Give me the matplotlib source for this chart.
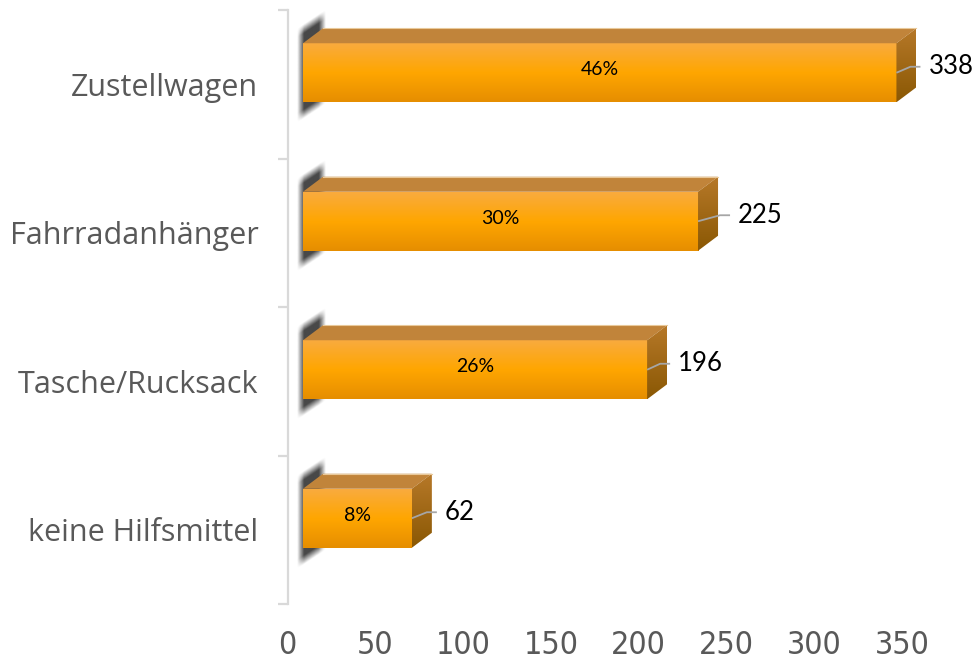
import numpy as np
import matplotlib
matplotlib.use("Agg")
import matplotlib.pyplot as plt
from matplotlib.patches import Polygon
from matplotlib import font_manager as fm

# --- data -------------------------------------------------------------
categories = ["Zustellwagen", "Fahrradanhänger", "Tasche/Rucksack", "keine Hilfsmittel"]
counts = [338, 225, 196, 62]
shares = [46, 30, 26, 8]
x_ticks = [0, 50, 100, 150, 200, 250, 300, 350]

# --- layout / style ---------------------------------------------------
W, H = 974, 659
AX_L, AX_R, AX_T, AX_B = 287.5, 902.0, 10.0, 604.0     # axes box in pixels
label_gap_px = [12, 20, 11, 13]                        # gap between bar and value label


def narrow_font():
    """Pick a narrow face for the value axis if one is installed."""
    for fam, stretch in (("Liberation Sans Narrow", "normal"),
                         ("DejaVu Sans", "condensed")):
        try:
            fp = fm.FontProperties(family=fam, stretch=stretch)
            path = fm.findfont(fp, fallback_to_default=False)
            if "narrow" in path.lower() or "condensed" in path.lower():
                return fm.FontProperties(fname=path, size=23)
        except Exception:
            pass
    return fm.FontProperties(family="Liberation Sans", size=22)


fig = plt.figure(figsize=(W / 100, H / 100), dpi=100)
fig.patch.set_facecolor("white")
ax = fig.add_axes([AX_L / W, (H - AX_B) / H, (AX_R - AX_L) / W, (AX_B - AX_T) / H])
ax.set_xlim(x_ticks[0], x_ticks[-1])
n = len(categories)
ax.set_ylim(n - 0.5, -0.5)

ux = (AX_R - AX_L) / (x_ticks[-1] - x_ticks[0])   # pixels per value unit
uy = (AX_B - AX_T) / n                             # pixels per category band


def px_x(p):
    return p / ux


def px_y(p):
    return p / uy


X0 = px_x(15.5)          # floor offset of the front face
DX = px_x(20)            # depth to the right
DY = -px_y(15)           # depth upwards (axis is inverted)
HALF = px_y(29.5)        # half height of a bar front
SHIFT = -px_y(11.5)      # bar front centre relative to the band centre

front_top = np.array([249, 171, 62]) / 255
front_mid = np.array([255, 166, 0]) / 255
front_bot = np.array([230, 142, 0]) / 255
side_top = np.array([182, 120, 40]) / 255
side_bot = np.array([138, 88, 4]) / 255
top_col = "#C1843A"


def vgrad(c_top, c_mid, c_bot, rows=64):
    t = np.linspace(0, 1, rows)[:, None]
    a = np.where(t < 0.5, t / 0.5, 0)
    b = np.where(t >= 0.5, (t - 0.5) / 0.5, 0)
    col = np.where(t < 0.5,
                   c_top[None, :] * (1 - a) + c_mid[None, :] * a,
                   c_mid[None, :] * (1 - b) + c_bot[None, :] * b)
    return col[:, None, :]


front_img = vgrad(front_top, front_mid, front_bot)
side_img = vgrad(side_top, (side_top + side_bot) / 2, side_bot)

for i, (v, s) in enumerate(zip(counts, shares)):
    yc = i + SHIFT
    yt, yb = yc - HALF, yc + HALF
    xs, xf = X0, X0 + v

    # soft shadow cast on the wall behind the bar
    gx = np.linspace(xs - px_x(10), xs + DX + px_x(10), 70)
    gy = np.linspace(yt + DY - px_y(26), yb + px_y(30), 180)
    GX, GY = np.meshgrid(gx, gy)
    frac = (GX - (xs - px_x(3))) / px_x(23)
    u = GY + frac * px_y(15)                      # undo the shear
    top_edge = yt - px_y(16)
    bot_edge = yb + px_y(19)
    soft = px_y(9)
    a = (np.clip((u - top_edge) / soft, 0, 1) * np.clip((bot_edge - u) / soft, 0, 1)
         * np.clip((frac * 23 + 3) / 7, 0, 1) * np.clip((26 - frac * 23) / 7, 0, 1))
    sh = np.zeros(a.shape + (4,))
    sh[..., :3] = 0.2
    sh[..., 3] = 0.9 * a
    ax.imshow(sh, extent=(gx[0], gx[-1], gy[-1], gy[0]), origin="upper",
              aspect="auto", interpolation="bilinear", zorder=1)

    # front face
    ax.imshow(front_img, extent=(xs, xf, yb, yt), origin="upper",
              aspect="auto", interpolation="bilinear", zorder=3)
    # top face
    ax.add_patch(Polygon([(xs, yt), (xs + DX, yt + DY), (xf + DX, yt + DY), (xf, yt)],
                         closed=True, facecolor=top_col, edgecolor="none",
                         zorder=3, clip_on=False))
    ax.plot([xs + DX, xf + DX], [yt + DY, yt + DY], color="#E9C99A", lw=0.8,
            zorder=4, clip_on=False)
    # right side face
    side_poly = Polygon([(xf, yt), (xf + DX, yt + DY), (xf + DX, yb + DY), (xf, yb)],
                        closed=True, facecolor="none", edgecolor="none",
                        zorder=3, clip_on=False)
    ax.add_patch(side_poly)
    im = ax.imshow(side_img, extent=(xf, xf + DX, yb, yt + DY), origin="upper",
                   aspect="auto", interpolation="bilinear", zorder=3)
    im.set_clip_box(fig.bbox)
    im.set_clip_path(side_poly)

    # share inside the bar
    ax.text((xs + xf) / 2, yc - px_y(3), f"{s}%", ha="center", va="center",
            fontsize=14, family="Lato", color="black", zorder=5)

    # value label with leader line
    lx = xf + DX + px_x(label_gap_px[i])
    ly = yc - px_y(6)
    ex = lx - px_x(8)
    ax.plot([xf, ex - px_x(10), ex], [yc, ly, ly], color="#A6A6A6", lw=1.3,
            zorder=5, clip_on=False, solid_capstyle="butt")
    ax.text(lx, ly, str(v), ha="left", va="center", fontsize=18.5, family="Lato",
            color="black", zorder=5, clip_on=False)

# restore default view (imshow may change limits)
ax.set_xlim(x_ticks[0], x_ticks[-1])
ax.set_ylim(n - 0.5, -0.5)

# --- axes ---------------------------------------------------------------
for side in ("top", "right", "bottom"):
    ax.spines[side].set_visible(False)
ax.spines["left"].set_color("#D9D9D9")
ax.spines["left"].set_linewidth(1.6)

ax.set_yticks(range(n))
ax.set_yticklabels(categories, family="Open Sans", fontsize=22, color="#595959")
ax.set_yticks(np.arange(n + 1) - 0.5, minor=True)
ax.tick_params(axis="y", which="major", length=0, pad=21)
ax.tick_params(axis="y", which="minor", length=7.5, width=1.6, color="#D9D9D9")

ax.set_xticks(x_ticks)
ax.set_xticklabels([str(t) for t in x_ticks], fontproperties=narrow_font(),
                   color="#595959")
ax.tick_params(axis="x", length=0, pad=18.5)

fig.savefig("out.png", dpi=100, facecolor="white")
